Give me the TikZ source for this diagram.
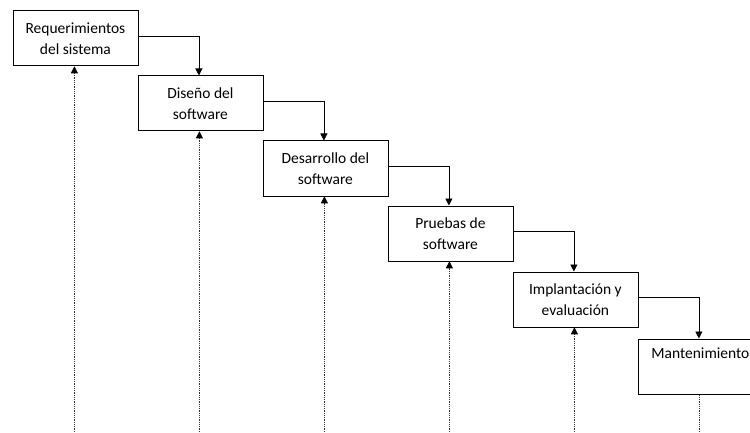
\documentclass[tikz,border=0pt]{standalone}
\usepackage{fontspec}
\setmainfont{Carlito}
\usetikzlibrary{arrows.meta,calc}

\tikzset{
  etapa/.style={draw,line width=0.8pt,minimum width=125pt,minimum height=55pt,
    inner sep=0pt,anchor=north west,align=center,
    font=\fontsize{15.5}{21}\selectfont},
  flujo/.style={line width=0.8pt,-{Triangle[length=7pt,width=7pt]}},
  retorno/.style={line width=0.8pt,densely dotted,black!80,
    -{Triangle[length=7pt,width=7pt,color=black,fill=black]}},
}

\begin{document}
\begin{tikzpicture}[x=1pt,y=1pt]
\clip (0,0) rectangle (750,432);
\useasboundingbox (0,0) rectangle (750,432);
\coordinate (base) at (0,0);

\node[etapa] (req) at (12.5,421.5) {Requerimientos\\del sistema};
\node[etapa] (dis) at (137.5,356.5) {Diseño del\\software};
\node[etapa] (des) at (262.5,291.5) {Desarrollo del\\software};
\node[etapa] (pru) at (387.5,226.5) {Pruebas de\\software};
\node[etapa] (imp) at (512.5,160.5) {Implantación y\\evaluación};
\node[etapa] (man) at (637.5,93.5) {Mantenimiento\\\strut};

% cascada
\draw[flujo] ([yshift=2pt]req.east) -| ([xshift=-1.5pt]dis.north);
\draw[flujo] ([yshift=2pt]dis.east) -| ([xshift=-1.5pt]des.north);
\draw[flujo] ([yshift=2pt]des.east) -| ([xshift=-1.5pt]pru.north);
\draw[flujo] ([yshift=2pt]pru.east) -| ([xshift=-1.5pt]imp.north);
\draw[flujo] ([yshift=2pt]imp.east) -| ([xshift=-1.5pt]man.north);

% retroalimentacion
\draw[retorno] ([xshift=-1pt]req.south |- base) -- ([xshift=-1pt]req.south);
\draw[retorno] ([xshift=-1pt]dis.south |- base) -- ([xshift=-1pt]dis.south);
\draw[retorno] ([xshift=-1pt]des.south |- base) -- ([xshift=-1pt]des.south);
\draw[retorno] ([xshift=-1pt]pru.south |- base) -- ([xshift=-1pt]pru.south);
\draw[retorno] ([xshift=-1pt]imp.south |- base) -- ([xshift=-1pt]imp.south);
\draw[line width=0.8pt,densely dotted,black!80] ([xshift=-1pt]man.south |- base) -- ([xshift=-1pt]man.south);
\end{tikzpicture}
\end{document}
